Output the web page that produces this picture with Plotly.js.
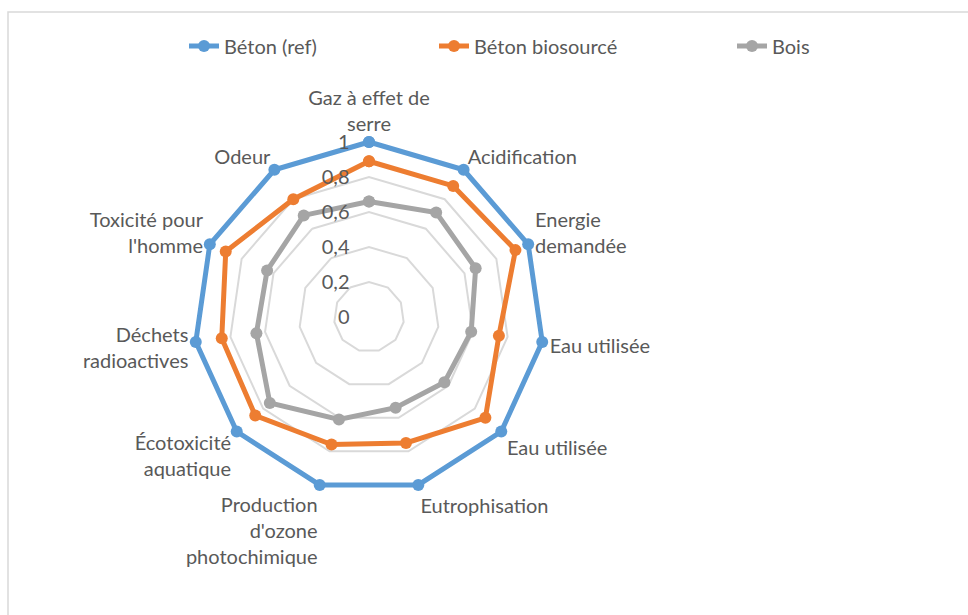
<!DOCTYPE html>
<html>
<head>
<meta charset="utf-8">
<script src="https://cdn.plot.ly/plotly-3.0.1.min.js"></script>
<style>
  html, body { margin: 0; padding: 0; background: #fff; }
  #chart { width: 968px; height: 615px; }
</style>
</head>
<body>
<div id="chart"></div>
<script>
// impact categories (2nd "Eau utilisée" carries a zero-width space so it stays a separate axis)
const categories = [
  "Gaz à effet de<br>serre",
  "Acidification",
  "Energie<br>demandée",
  "Eau utilisée",
  "Eau utilisée\u200b",
  "Eutrophisation",
  "Production<br>d'ozone<br>photochimique",
  "Écotoxicité<br>aquatique",
  "Déchets<br>radioactives",
  "Toxicité pour<br>l'homme",
  "Odeur"
];

const betonRef = [1, 1, 1, 1, 1, 1, 1, 1, 1, 1, 1];
const betonBio = [0.89, 0.89, 0.92, 0.75, 0.88, 0.75, 0.76, 0.86, 0.85, 0.90, 0.80];
const bois = [0.66, 0.71, 0.67, 0.59, 0.57, 0.54, 0.61, 0.75, 0.65, 0.64, 0.69];

const radialTicks = [0, 0.2, 0.4, 0.6, 0.8, 1];

// close the polygon
const close = arr => arr.concat([arr[0]]);

const mkTrace = (name, vals, color, leg) => ({
  type: "scatterpolar",
  mode: "lines+markers",
  r: close(vals),
  theta: close(categories),
  name: name,
  legend: leg,
  line: { color: color, width: 5 },
  marker: { color: color, size: 12 },
  cliponaxis: false
});

const data = [
  mkTrace("Béton (ref)", betonRef, "#5b9bd5", "legend"),
  mkTrace("Béton biosourcé", betonBio, "#ed7d31", "legend2"),
  mkTrace("Bois", bois, "#a5a5a5", "legend3")
];

const W = 968, H = 615;
const cx = 369, cy = 317, R = 175;
const rMax = 1.04;          // a bit of room so the outer line isn't clipped
const Rd = R * rMax;

const FONT = "Lato, 'Open Sans', sans-serif";

const legendStyle = x => ({
  x: x / W, y: 1 - 46 / H,
  xanchor: "left", yanchor: "middle",
  orientation: "h",
  bgcolor: "rgba(0,0,0,0)",
  font: { family: FONT, size: 20, color: "#595959" },
  itemwidth: 30
});

const layout = {
  width: W,
  height: H,
  margin: { l: 0, r: 0, t: 0, b: 0 },
  paper_bgcolor: "#fff",
  separators: ", ",
  font: { family: FONT, size: 20, color: "#595959" },
  showlegend: true,
  legend: legendStyle(184),
  legend2: legendStyle(434),
  legend3: legendStyle(732),
  polar: {
    domain: {
      x: [(cx - Rd) / W, (cx + Rd) / W],
      y: [(H - cy - Rd) / H, (H - cy + Rd) / H]
    },
    gridshape: "linear",
    bgcolor: "rgba(0,0,0,0)",
    radialaxis: {
      range: [0, rMax],
      tickvals: radialTicks,
      angle: 90,
      tickangle: 90,
      side: "counterclockwise",
      showline: false,
      ticks: "outside",
      ticklen: 12,
      tickcolor: "rgba(0,0,0,0)",
      gridcolor: "#d9d9d9",
      gridwidth: 2,
      tickfont: { size: 20, color: "#595959" }
    },
    angularaxis: {
      type: "category",
      rotation: 90,
      direction: "clockwise",
      showgrid: false,
      showline: false,
      ticks: "",
      tickfont: { size: 20, color: "#595959" }
    }
  },
  shapes: [{
    type: "rect", xref: "paper", yref: "paper",
    x0: 8 / W, x1: 1.02, y0: -0.02, y1: 1 - 12 / H,
    line: { color: "#d9d9d9", width: 1.5 },
    fillcolor: "rgba(0,0,0,0)"
  }]
};

Plotly.newPlot("chart", data, layout, { displayModeBar: false });
</script>
</body>
</html>
